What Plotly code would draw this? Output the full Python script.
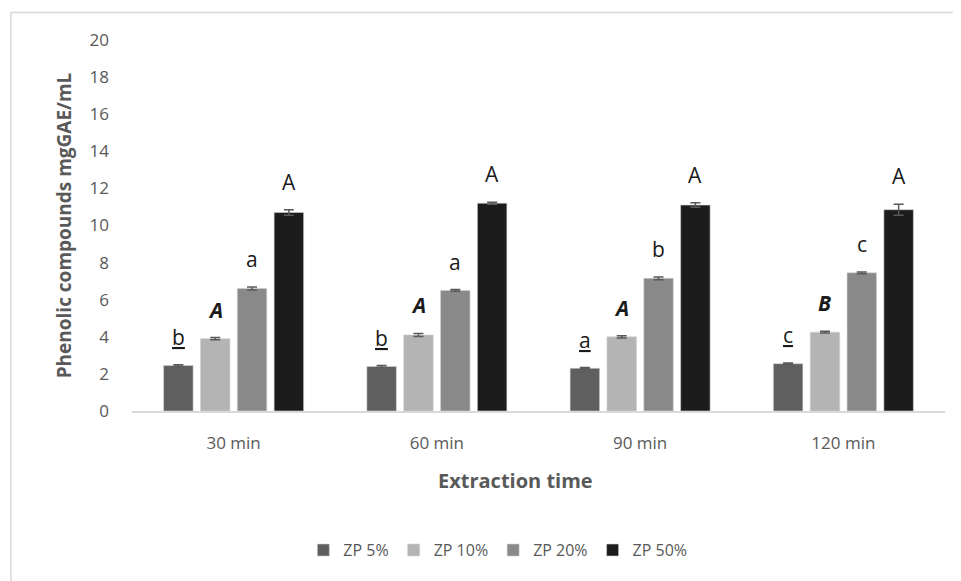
import plotly.graph_objects as go

categories = ["30 min", "60 min", "90 min", "120 min"]
series_names = ["ZP 5%", "ZP 10%", "ZP 20%", "ZP 50%"]
zp5 = [2.45, 2.4, 2.3, 2.55]
zp10 = [3.9, 4.1, 4.0, 4.25]
zp20 = [6.6, 6.5, 7.15, 7.45]
zp50 = [10.7, 11.2, 11.1, 10.85]
err5 = [0.05, 0.05, 0.04, 0.04]
err10 = [0.06, 0.08, 0.06, 0.05]
err20 = [0.08, 0.05, 0.08, 0.05]
err50 = [0.15, 0.05, 0.12, 0.3]
letters5 = ["<u>b</u>", "<u>b</u>", "<u>a</u>", "<u>c</u>"]
letters10 = ["<b><i>A</i></b>", "<b><i>A</i></b>", "<b><i>A</i></b>", "<b><i>B</i></b>"]
letters20 = ["a", "a", "b", "c"]
letters50 = ["A", "A", "A", "A"]
y_ticks = [0, 2, 4, 6, 8, 10, 12, 14, 16, 18, 20]

colors = ["#5f5f5f", "#b4b4b4", "#898989", "#1c1c1c"]
values = [zp5, zp10, zp20, zp50]
errors = [err5, err10, err20, err50]
letters = [letters5, letters10, letters20, letters50]

FONT = "Open Sans"
TXT = "#595959"
bargap = 0.275

fig = go.Figure()
for name, vals, errs, col in zip(series_names, values, errors, colors):
    fig.add_trace(go.Bar(
        name=name, x=categories, y=vals, marker_color=col,
        marker_line=dict(color="#d0d0d0", width=0.6),
        error_y=dict(type="data", array=errs, visible=True, color="#595959",
                     thickness=1.5, width=5),
    ))

slot = (1 - bargap) / len(series_names)
for j, (vals, errs, labs) in enumerate(zip(values, errors, letters)):
    off = (j - (len(series_names) - 1) / 2) * slot
    for i, (v, e, t) in enumerate(zip(vals, errs, labs)):
        fig.add_annotation(x=i + off, y=v + e, xref="x", yref="y", text=t,
                           showarrow=False, yanchor="bottom", yshift=12,
                           font=dict(family=FONT, size=21, color="#1a1a1a"))

fig.add_annotation(x=0.472, y=-0.186, xref="paper", yref="paper",
                   text="<b>Extraction time</b>", showarrow=False,
                   xanchor="center", yanchor="middle",
                   font=dict(family=FONT, size=20, color=TXT))

fig.add_shape(type="rect", xref="paper", yref="paper",
              x0=-0.149, x1=1.1, y0=-0.6, y1=1.074,
              line=dict(color="#d9d9d9", width=1.5), fillcolor="rgba(0,0,0,0)",
              layer="below")

fig.update_layout(
    width=961, height=581,
    margin=dict(l=124, r=24, t=32, b=178, autoexpand=False),
    paper_bgcolor="white", plot_bgcolor="white",
    barmode="group", bargap=bargap, bargroupgap=0.2,
    font=dict(family=FONT, color=TXT),
    showlegend=True,
    legend=dict(orientation="h", x=0.45, xanchor="center", y=-0.375, yanchor="middle",
                font=dict(family=FONT, size=16, color=TXT), itemwidth=30,
                traceorder="normal"),
)
fig.update_xaxes(
    automargin=False,
    showline=True, linecolor="#d9d9d9", linewidth=2, ticks="",
    tickfont=dict(family=FONT, size=17, color=TXT), ticklabelstandoff=16,
)
fig.update_yaxes(
    automargin=False,
    range=[0, 20], tickvals=y_ticks, showgrid=False, zeroline=False, showline=False,
    tickfont=dict(family=FONT, size=17, color=TXT), ticklabelstandoff=22,
    title=dict(text="<b>Phenolic compounds mgGAE/mL</b>",
               font=dict(family=FONT, size=19, color=TXT), standoff=12),
)

fig.write_html("out.html")
